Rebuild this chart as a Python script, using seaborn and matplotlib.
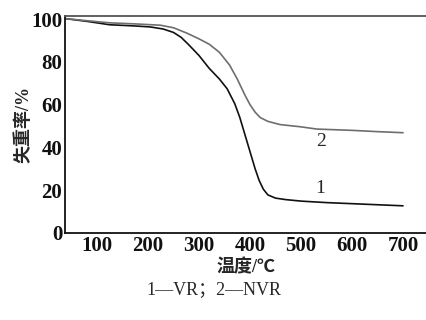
import pandas as pd
import matplotlib.pyplot as plt
import seaborn as sns

# ── Data ──────────────────────────────────────────────────────────────────
temp_vr = [37, 80, 125, 170, 204, 230, 250, 265, 280, 300, 320, 340, 355, 370,
           380, 390, 400, 410, 418, 426, 435, 450, 470, 500, 550, 620, 700]
loss_vr = [100.3, 99.0, 97.4, 96.9, 96.4, 95.4, 93.8, 91.5, 88.0, 83.0, 77.0, 72.0,
           67.5, 60.5, 54.0, 46.0, 38.0, 30.0, 24.5, 20.5, 17.8, 16.3, 15.6, 14.9,
           14.2, 13.5, 12.7]

temp_nvr = [37, 80, 125, 175, 224, 250, 276, 300, 320, 340, 360, 375, 390, 400,
            410, 420, 435, 459, 498, 531, 600, 650, 700]
loss_nvr = [100.3, 99.3, 98.3, 97.8, 97.2, 96.0, 93.5, 90.8, 88.3, 84.5, 78.5, 72.0,
            64.5, 60.0, 56.5, 54.0, 52.2, 50.7, 49.7, 48.6, 48.0, 47.4, 46.9]

curve_labels = ['1', '2']
caption = '1—VR；2—NVR'

df = pd.concat([
    pd.DataFrame({'temp': temp_vr, 'loss': loss_vr, 'sample': 'VR'}),
    pd.DataFrame({'temp': temp_nvr, 'loss': loss_nvr, 'sample': 'NVR'}),
])

# ── Plot ──────────────────────────────────────────────────────────────────
sns.set_style('white')
plt.rcParams['font.family'] = ['Liberation Serif', 'Noto Sans CJK SC']

fig = plt.figure(figsize=(4.27, 3.2), dpi=100)
ax = fig.add_axes([0.152, 0.272, 0.848, 0.678])

sns.lineplot(data=df, x='temp', y='loss', hue='sample',
             palette={'VR': '#111111', 'NVR': '#6e6e6e'},
             linewidth=1.2, legend=False, sort=False, ax=ax)

ax.set_xlim(37, 747)
ax.set_ylim(0, 101.5)
ax.set_xticks([100, 200, 300, 400, 500, 600, 700])
ax.set_yticks([0, 20, 40, 60, 80, 100])
ax.tick_params(axis='both', direction='in', length=4, width=1,
               labelsize=15, pad=2, colors='#111111')
for lab in ax.get_xticklabels() + ax.get_yticklabels():
    lab.set_fontweight('bold')

ax.spines['right'].set_visible(False)
for side in ['left', 'bottom']:
    ax.spines[side].set_color('#111111')
    ax.spines[side].set_linewidth(1.3)
ax.spines['top'].set_color('#555555')
ax.spines['top'].set_linewidth(1.3)

ax.set_xlabel('温度/℃', fontsize=13, fontweight='bold', labelpad=2)
ax.set_ylabel('失重率/%', fontsize=13, fontweight='bold', labelpad=-1)

ax.text(537, 21, curve_labels[0], fontsize=14, ha='center', va='center')
ax.text(540, 43, curve_labels[1], fontsize=14, ha='center', va='center')

fig.text(0.5, 0.095, caption, fontsize=13, ha='center', va='center')

plt.savefig('out.png', dpi=100)
